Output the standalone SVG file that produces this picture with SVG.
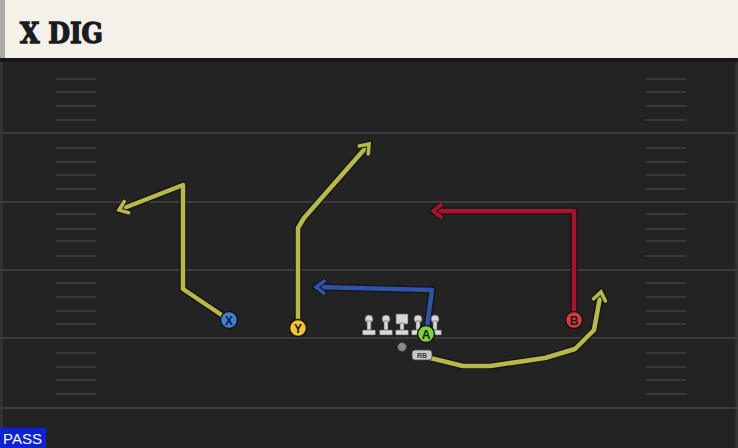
<svg xmlns="http://www.w3.org/2000/svg" width="738" height="448" viewBox="0 0 738 448">
<style>
.hash{stroke:#3a3a3a;stroke-width:2}
.yard{stroke:#3c3c3c;stroke-width:2}
.under{fill:none;stroke:#141414;stroke-width:7;stroke-linejoin:round;stroke-linecap:round}
.ry{fill:none;stroke:#b8ba48;stroke-width:4.5;stroke-linejoin:round}
.rr{fill:none;stroke:#a8132e;stroke-width:4.5;stroke-linejoin:round}
.rb{fill:none;stroke:#2f52ad;stroke-width:4.5;stroke-linejoin:round}
.lbl{font-family:"Liberation Sans",Arial,sans-serif;font-weight:bold;font-size:12px;text-anchor:middle;fill:#1a1a1a}
.ol{fill:#d8d8d8;stroke:#555;stroke-width:0.6}
</style>
<defs>
<marker id="ay" viewBox="0 0 16 16" refX="11" refY="8" markerWidth="16" markerHeight="16" markerUnits="userSpaceOnUse" orient="auto"><path d="M3,2 L11,8 L3,14" fill="none" stroke="#141414" stroke-width="5.5" stroke-linecap="round"/><path d="M3,2 L11,8 L3,14" fill="none" stroke="#b8ba48" stroke-width="3.6" stroke-linecap="round"/></marker>
<marker id="ar" viewBox="0 0 16 16" refX="11" refY="8" markerWidth="16" markerHeight="16" markerUnits="userSpaceOnUse" orient="auto"><path d="M3,2 L11,8 L3,14" fill="none" stroke="#141414" stroke-width="5.5" stroke-linecap="round"/><path d="M3,2 L11,8 L3,14" fill="none" stroke="#a8132e" stroke-width="3.6" stroke-linecap="round"/></marker>
<marker id="ab" viewBox="0 0 16 16" refX="11" refY="8" markerWidth="16" markerHeight="16" markerUnits="userSpaceOnUse" orient="auto"><path d="M3,2 L11,8 L3,14" fill="none" stroke="#141414" stroke-width="5.5" stroke-linecap="round"/><path d="M3,2 L11,8 L3,14" fill="none" stroke="#2f52ad" stroke-width="3.6" stroke-linecap="round"/></marker>
<g id="lineman"><circle cx="0" cy="-5" r="4" class="ol"/><rect x="-2" y="-3" width="4" height="9" class="ol"/><rect x="-6.5" y="6" width="13" height="5" rx="1" class="ol"/></g>
</defs>

<rect x="0" y="0" width="738" height="448" fill="#232323"/>
<line x1="1.5" y1="62" x2="1.5" y2="428" stroke="#3a3a3a" stroke-width="2"/>
<line x1="736.5" y1="62" x2="736.5" y2="448" stroke="#3a3a3a" stroke-width="2"/>
<g id="yardlines">
<line class="yard" x1="0" y1="133" x2="738" y2="133"/>
<line class="yard" x1="0" y1="202" x2="738" y2="202"/>
<line class="yard" x1="0" y1="270" x2="738" y2="270"/>
<line class="yard" x1="0" y1="338" x2="738" y2="338"/>
<line class="yard" x1="0" y1="408" x2="738" y2="408"/>
</g>
<g id="hashes">
<path class="hash" d="M56,79H96M56,92H96M56,106H96M56,120H96M56,148H96M56,162H96M56,175H96M56,189H96M56,214H96M56,229H96M56,241H96M56,256H96M56,283H96M56,297H96M56,311H96M56,324H96M56,353H96M56,367H96M56,380H96M56,394H96"/>
<path class="hash" d="M646,79H686M646,92H686M646,106H686M646,120H686M646,148H686M646,162H686M646,175H686M646,189H686M646,214H686M646,229H686M646,241H686M646,256H686M646,283H686M646,297H686M646,311H686M646,324H686M646,353H686M646,367H686M646,380H686M646,394H686"/>
</g>

<g id="header">
<rect x="0" y="0" width="738" height="58" fill="#f4f1ea"/>
<rect x="0" y="0" width="5" height="58" fill="#a9aaa6"/>
<rect x="0" y="58" width="738" height="4" fill="#181818"/>
<text x="20" y="43" font-family="'DejaVu Serif','Liberation Serif',serif" font-weight="bold" font-size="28" fill="#1c1c1c" stroke="#1c1c1c" stroke-width="1.4" textLength="83" lengthAdjust="spacingAndGlyphs">X DIG</text>
</g>

<g id="routes">
<path class="under" d="M229,320 L183,289 L183,185 L119,210"/>
<path class="ry" d="M229,320 L183,289 L183,185 L119,210" marker-end="url(#ay)"/>
<path class="under" d="M298,328 L298,228 L304,218 L369,144"/>
<path class="ry" d="M298,328 L298,228 L304,218 L369,144" marker-end="url(#ay)"/>
<path class="under" d="M574,320 L574,211 L433,211"/>
<path class="rr" d="M574,320 L574,211 L433,211" marker-end="url(#ar)"/>
<path class="under" d="M426,334 L432,290 L316,287"/>
<path class="rb" d="M426,334 L432,290 L316,287" marker-end="url(#ab)"/>
<path class="under" d="M422,356 L463,366 L490,366 L545,358 L575,349 L594,330 L601,292"/>
<path class="ry" d="M422,356 L463,366 L490,366 L545,358 L575,349 L594,330 L601,292" marker-end="url(#ay)"/>
</g>

<g id="oline">
<use href="#lineman" x="369" y="324"/>
<use href="#lineman" x="386" y="324"/>
<g><rect x="396" y="314" width="12" height="10" class="ol" fill="#f2f2f2"/><rect x="400" y="323" width="4" height="7" class="ol"/><rect x="395.5" y="330" width="13" height="5" rx="1" class="ol"/></g>
<use href="#lineman" x="418" y="324"/>
<use href="#lineman" x="435" y="324"/>
</g>

<g id="qb"><circle cx="402" cy="347" r="4.5" fill="#8a8a8a" stroke="#333" stroke-width="0.8"/></g>
<g id="rb">
<rect x="412" y="350" width="20" height="10" rx="3" fill="#c9c9c9" stroke="#444" stroke-width="0.8"/>
<text x="422" y="358" font-family="'Liberation Sans',Arial,sans-serif" font-weight="bold" font-size="7" text-anchor="middle" fill="#333">RB</text>
</g>

<g id="X"><circle cx="229" cy="320" r="8.5" fill="#3f7fd8" stroke="#141414" stroke-width="1.5"/><text class="lbl" x="229" y="324.5">X</text></g>
<g id="Y"><circle cx="298" cy="328" r="8.5" fill="#f2c531" stroke="#141414" stroke-width="1.5"/><text class="lbl" x="298" y="332.5">Y</text></g>
<g id="B"><circle cx="574" cy="320" r="8.5" fill="#e0383f" stroke="#141414" stroke-width="1.5"/><text class="lbl" x="574" y="324.5">B</text></g>
<g id="A"><circle cx="426" cy="334" r="8.5" fill="#7ed23a" stroke="#141414" stroke-width="1.5"/><text class="lbl" x="426" y="338.5">A</text></g>

<g id="pass">
<rect x="0" y="428" width="46" height="20" fill="#0b22d8"/>
<text x="3" y="444" font-family="'Liberation Sans',Arial,sans-serif" font-size="15" fill="#ffffff" textLength="39" lengthAdjust="spacingAndGlyphs">PASS</text>
</g>
</svg>
